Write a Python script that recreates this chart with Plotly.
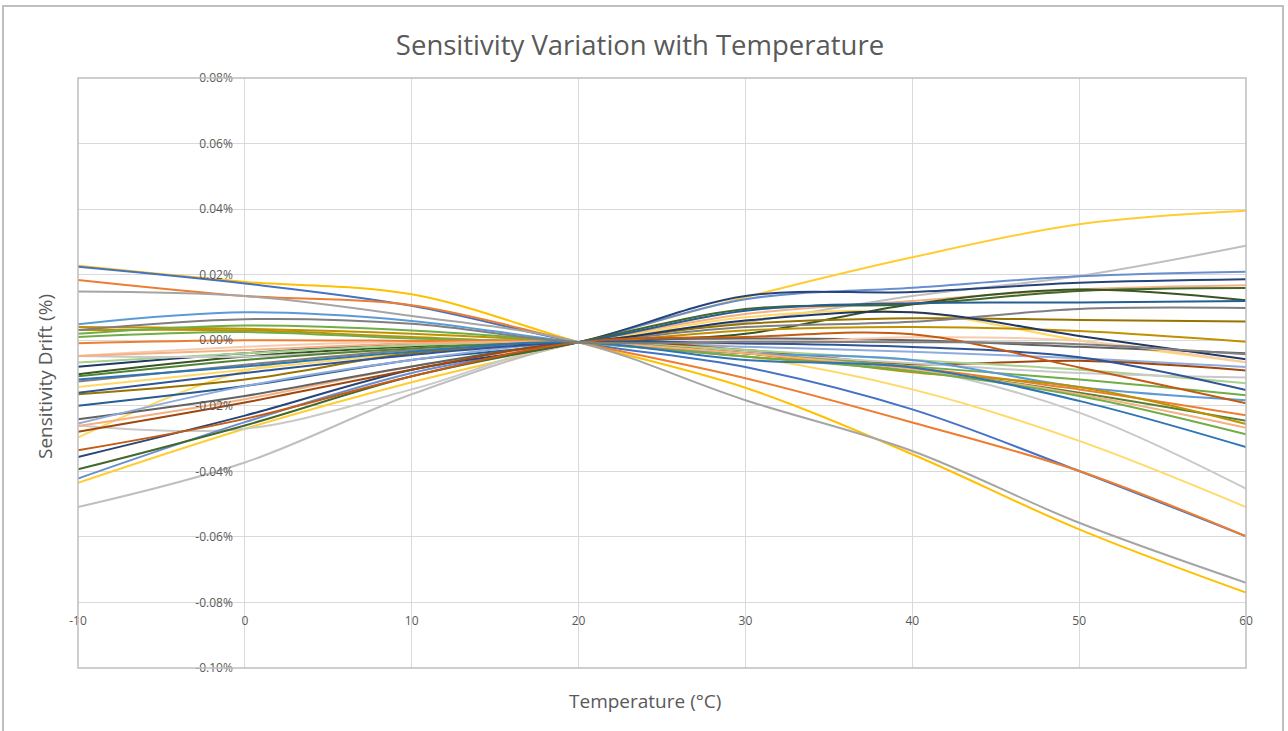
import plotly.graph_objects as go

temperatures = [-10, 0, 10, 20, 30, 40, 50, 60]
x_tick_values = [-10, 0, 10, 20, 30, 40, 50, 60]
x_tick_labels = ["-10", "0", "10", "20", "30", "40", "50", "60"]
y_tick_values = [-0.10, -0.08, -0.06, -0.04, -0.02, 0.00, 0.02, 0.04, 0.06, 0.08]
y_tick_labels = ["-0.10%", "-0.08%", "-0.06%", "-0.04%", "-0.02%", "0.00%",
                 "0.02%", "0.04%", "0.06%", "0.08%"]

series_colors = [
    "#FFC000", "#4472C4", "#ED7D31", "#A5A5A5", "#FFCD33", "#BFBFBF", "#C9C9C9",
    "#FFD966", "#FFD966", "#698ED0", "#264478", "#F4B183", "#43682B", "#375623",
    "#255E91", "#636363", "#997300", "#BF9000", "#7F7F7F", "#203864", "#F8CBAD",
    "#8FAADC", "#9E480E", "#A9D18E", "#C9C9C9", "#2F5597", "#70AD47", "#5B9BD5",
    "#C55A11", "#ED7D31", "#548235", "#BF9000", "#F4B183", "#70AD47", "#2E75B6",
    "#7F7F7F",
]

drift = [
    [0.0227, 0.0178, 0.0140, -0.0006, -0.0145, -0.0348, -0.0577, -0.0770],
    [0.0224, 0.0173, 0.0105, -0.0006, -0.0082, -0.0211, -0.0399, -0.0598],
    [0.0184, 0.0135, 0.0107, -0.0006, -0.0116, -0.0251, -0.0399, -0.0598],
    [0.0149, 0.0135, 0.0074, -0.0006, -0.0183, -0.0338, -0.0557, -0.0740],
    [-0.0435, -0.0270, -0.0128, -0.0006, 0.0131, 0.0253, 0.0354, 0.0395],
    [-0.0509, -0.0373, -0.0165, -0.0006, 0.0055, 0.0135, 0.0196, 0.0288],
    [-0.0260, -0.0270, -0.0150, -0.0006, -0.0035, -0.0085, -0.0221, -0.0453],
    [-0.0143, -0.0090, -0.0040, -0.0006, -0.0050, -0.0150, -0.0307, -0.0509],
    [-0.0297, -0.0094, -0.0030, -0.0006, 0.0070, 0.0085, 0.0000, -0.0067],
    [-0.0422, -0.0250, -0.0100, -0.0006, 0.0125, 0.0160, 0.0195, 0.0209],
    [-0.0356, -0.0230, -0.0090, -0.0006, 0.0135, 0.0147, 0.0175, 0.0186],
    [-0.0262, -0.0180, -0.0080, -0.0006, 0.0080, 0.0120, 0.0155, 0.0168],
    [-0.0394, -0.0260, -0.0110, -0.0006, 0.0095, 0.0110, 0.0150, 0.0159],
    [-0.0104, -0.0050, -0.0020, -0.0006, 0.0020, 0.0110, 0.0155, 0.0122],
    [-0.0200, -0.0140, -0.0060, -0.0006, 0.0090, 0.0113, 0.0115, 0.0120],
    [-0.0241, -0.0170, -0.0080, -0.0006, 0.0005, 0.0000, -0.0020, -0.0040],
    [-0.0165, -0.0120, -0.0040, -0.0006, 0.0050, 0.0067, 0.0062, 0.0057],
    [0.0031, 0.0030, 0.0010, -0.0006, 0.0030, 0.0040, 0.0028, -0.0005],
    [-0.0126, -0.0075, -0.0030, -0.0006, 0.0040, 0.0056, 0.0095, 0.0098],
    [-0.0081, -0.0040, -0.0010, -0.0006, 0.0060, 0.0085, 0.0013, -0.0058],
    [-0.0048, -0.0020, -0.0005, -0.0006, -0.0010, 0.0009, -0.0002, -0.0067],
    [-0.0254, -0.0140, -0.0060, -0.0006, -0.0020, -0.0035, -0.0055, -0.0082],
    [-0.0279, -0.0190, -0.0090, -0.0006, -0.0030, -0.0073, -0.0063, -0.0092],
    [-0.0068, -0.0040, -0.0015, -0.0006, -0.0030, -0.0060, -0.0090, -0.0131],
    [-0.0048, -0.0050, -0.0025, -0.0006, -0.0040, -0.0070, -0.0100, -0.0114],
    [-0.0160, -0.0100, -0.0045, -0.0006, -0.0010, -0.0021, -0.0052, -0.0152],
    [0.0010, 0.0025, 0.0005, -0.0006, -0.0040, -0.0080, -0.0120, -0.0168],
    [0.0049, 0.0085, 0.0059, -0.0006, -0.0040, -0.0060, -0.0143, -0.0183],
    [-0.0336, -0.0240, -0.0110, -0.0006, 0.0010, 0.0018, -0.0083, -0.0192],
    [-0.0009, 0.0000, -0.0002, -0.0006, -0.0050, -0.0085, -0.0150, -0.0229],
    [-0.0110, -0.0060, -0.0025, -0.0006, -0.0040, -0.0090, -0.0160, -0.0246],
    [0.0040, 0.0035, 0.0020, -0.0006, -0.0040, -0.0098, -0.0143, -0.0256],
    [-0.0048, -0.0030, -0.0010, -0.0006, -0.0040, -0.0089, -0.0165, -0.0267],
    [0.0020, 0.0045, 0.0030, -0.0006, -0.0050, -0.0095, -0.0170, -0.0287],
    [-0.0120, -0.0080, -0.0035, -0.0006, -0.0060, -0.0083, -0.0185, -0.0326],
    [0.0031, 0.0064, 0.0050, -0.0006, -0.0005, -0.0006, -0.0012, -0.0043],
]

chart_title = "Sensitivity Variation with Temperature"
x_title = "Temperature (°C)"
y_title = "Sensitivity Drift (%)"

# body margin is removed in the page, so figure pixels == page pixels
W, H = 1288, 731
ML, MR, MT, MB = 78, 42, 78, 63
PW, PH = W - ML - MR, H - MT - MB

def px_x(p):  # page pixel -> paper fraction
    return (p - ML) / PW

def px_y(p):
    return (H - MB - p) / PH

fig = go.Figure()
for i, vals in enumerate(drift):
    fig.add_trace(go.Scatter(
        x=temperatures, y=vals, mode="lines",
        line=dict(color=series_colors[i], width=2, shape="spline", smoothing=1.0),
        name=f"Sensor {i+1}", showlegend=False, hoverinfo="x+y",
    ))

font_family = "Open Sans, Liberation Sans, sans-serif"
fig.update_layout(
    width=W, height=H,
    margin=dict(l=ML, r=MR, t=MT, b=MB),
    paper_bgcolor="white", plot_bgcolor="white",
    showlegend=False,
    font=dict(family=font_family, color="#595959"),
    title=dict(text=chart_title, x=640 / W, xref="container", xanchor="center",
               y=1 - 45 / H, yref="container", yanchor="middle",
               font=dict(size=27.5, color="#595959", family=font_family)),
    xaxis=dict(range=[-10, 60], tickvals=x_tick_values, ticktext=x_tick_labels,
               showgrid=True, gridcolor="#D9D9D9",
               gridwidth=1, zeroline=False, showline=False, ticks="",
               anchor="free", position=1 / 9, ticklabelstandoff=10,
               tickfont=dict(size=12, color="#595959")),
    yaxis=dict(range=[-0.10, 0.08], tickvals=y_tick_values, ticktext=y_tick_labels,
               showgrid=True, gridcolor="#D9D9D9",
               gridwidth=1, zeroline=False, showline=False, ticks="",
               anchor="free", position=1 / 7, ticklabelstandoff=12,
               tickfont=dict(size=12, color="#595959")),
    shapes=[
        dict(type="rect", xref="paper", yref="paper", x0=0, x1=1, y0=0, y1=1,
             line=dict(color="#BFBFBF", width=1.5), layer="above"),
        dict(type="rect", xref="paper", yref="paper",
             x0=px_x(3), x1=px_x(1283), y0=px_y(745), y1=px_y(6),
             line=dict(color="#BFBFBF", width=2), layer="below"),
    ],
    annotations=[
        dict(text=x_title, xref="paper", yref="paper", x=px_x(645), y=px_y(701),
             xanchor="center", yanchor="middle",
             showarrow=False, font=dict(size=19, color="#595959")),
        dict(text=y_title, xref="paper", yref="paper", x=px_x(45), y=px_y(377),
             xanchor="center", yanchor="middle",
             showarrow=False, textangle=-90, font=dict(size=19, color="#595959")),
    ],
)

fig.write_html("out.html", config={"displayModeBar": False},
               post_script="document.body.style.margin='0';")
